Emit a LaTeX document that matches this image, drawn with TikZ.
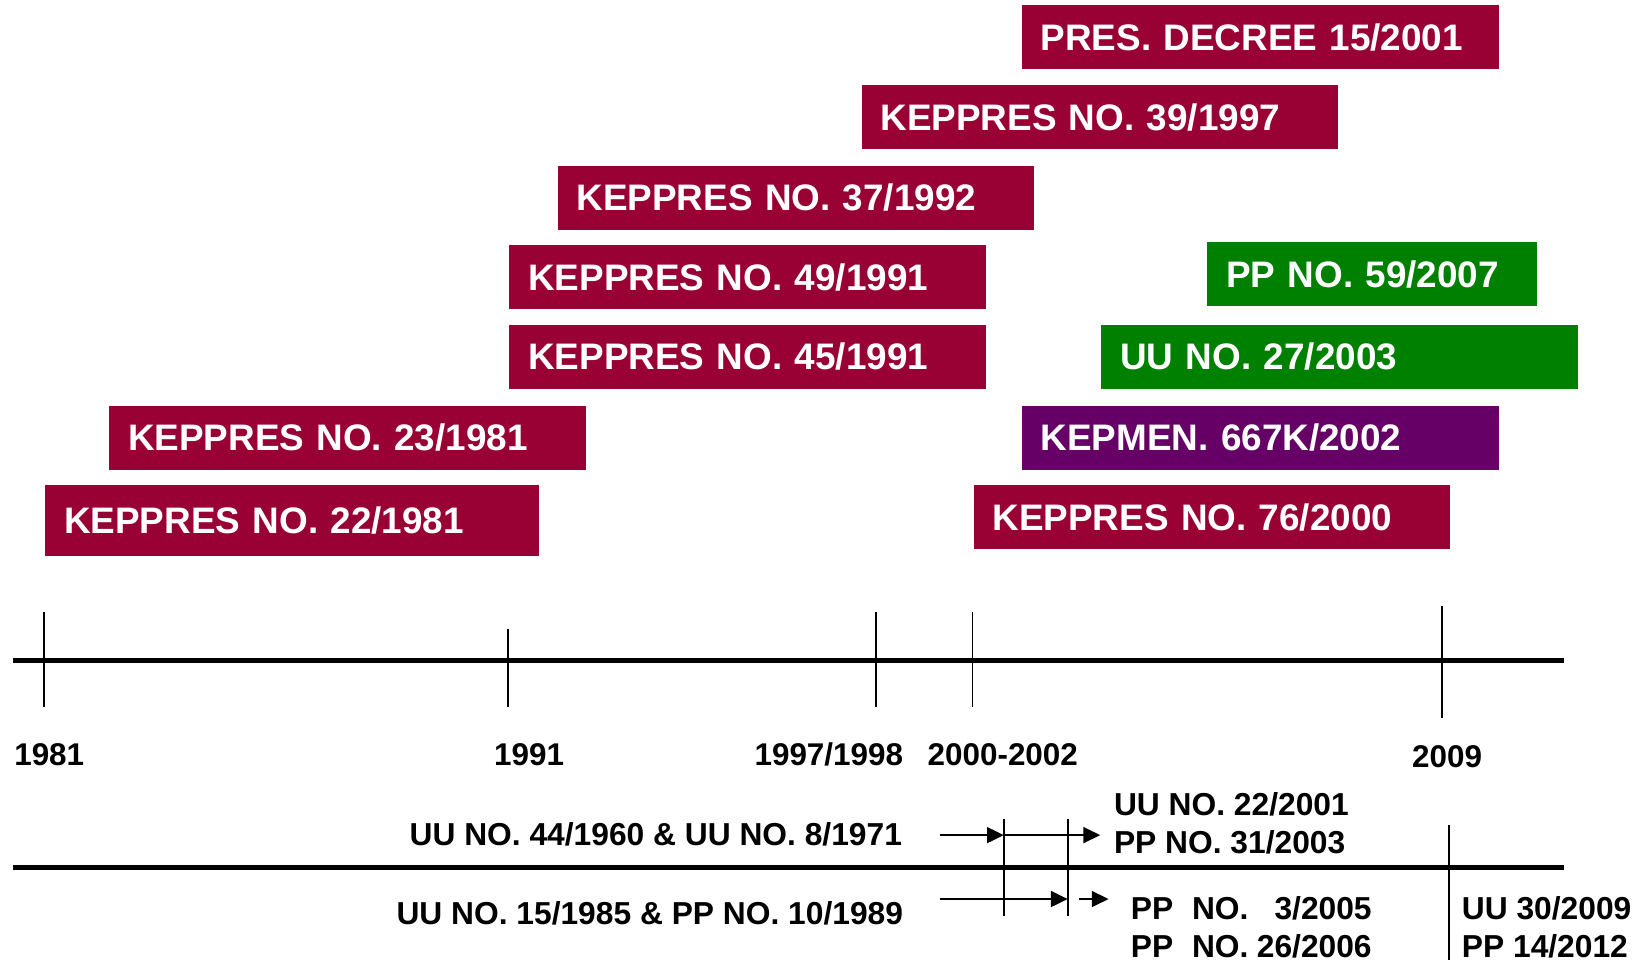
\documentclass[tikz,border=0pt]{standalone}
\usepackage{fontspec}
\setmainfont{Liberation Sans}
\usetikzlibrary{arrows.meta}
\definecolor{crim}{RGB}{153,0,51}
\definecolor{grn}{RGB}{0,128,0}
\definecolor{prp}{RGB}{102,0,102}
\begin{document}
\begin{tikzpicture}[x=1pt,y=-1pt,
  lawbox/.style={anchor=north west, fill=#1, text=white, inner xsep=18pt, inner ysep=0pt,
    text width=419pt, minimum height=61pt, align=left,
    font=\fontsize{35.2}{40}\selectfont\bfseries},
  yearlbl/.style={font=\fontsize{30}{36}\selectfont\bfseries, inner sep=0pt},
  lawtxt/.style={font=\fontsize{30.3}{36.5}\selectfont\bfseries, inner sep=0pt, align=left},
  axis/.style={line width=4.5pt},
  tick/.style={line width=1.6pt},
  arr/.style={line width=2.2pt, -{Triangle[length=16pt,width=15pt]}}]
\useasboundingbox (0,0) rectangle (1568,918);
% boxes
\node[lawbox=crim] (b1) at (975,5) {PRES. DECREE 15/2001};
\node[lawbox=crim] (b2) at (822,81) {KEPPRES NO. 39/1997};
\node[lawbox=crim] (b3) at (532,158) {KEPPRES NO. 37/1992};
\node[lawbox=crim] (b4) at (486,234) {KEPPRES NO. 49/1991};
\node[lawbox=crim] (b5) at (486,310) {KEPPRES NO. 45/1991};
\node[lawbox=crim] (b6) at (104,387) {KEPPRES NO. 23/1981};
\node[lawbox=crim, text width=435pt, minimum height=67pt] (b7) at (43,463) {KEPPRES NO. 22/1981};
\node[lawbox=grn, text width=279pt] (b8) at (1152,231) {PP NO. 59/2007};
\node[lawbox=grn] (b9) at (1051,310) {UU NO. 27/2003};
\node[lawbox=prp] (b10) at (975,387) {KEPMEN. 667K/2002};
\node[lawbox=crim] (b11) at (929,463) {KEPPRES NO. 76/2000};
% timeline
\draw[axis] (12,630) -- (1493,630);
\draw[tick] (42,584) -- (42,675);
\draw[tick] (485,600) -- (485,675);
\draw[tick] (836,584) -- (836,675);
\draw[tick] (928,584) -- (928,675);
\draw[tick] (1376,578) -- (1376,685);
\node[yearlbl] (y1) at (47,720) {1981};
\node[yearlbl] (y2) at (505,720) {1991};
\node[yearlbl] (y3) at (791,720) {1997/1998};
\node[yearlbl] (y4) at (957,720) {2000-2002};
\node[yearlbl] (y5) at (1381,722) {2009};
% lower timeline
\draw[axis] (12,828) -- (1493,828);
\coordinate (v1t) at (958,782); \coordinate (v1b) at (958,874);
\coordinate (v2t) at (1019,782); \coordinate (v2b) at (1019,874);
\coordinate (v3t) at (1383,787); \coordinate (v3b) at (1383,916);
\draw[tick] (v1t) -- (v1b);
\draw[tick] (v2t) -- (v2b);
\draw[tick] (v3t) -- (v3b);
\node[lawtxt, anchor=east] (l1) at (861,796) {UU NO. 44/1960 \& UU NO. 8/1971};
\node[lawtxt, anchor=east] (l2) at (862,872) {UU NO. 15/1985 \& PP NO. 10/1989};
\coordinate (a1) at (897,797);
\coordinate (a1m) at (958,797);
\coordinate (a1e) at (1050,797);
\coordinate (a2) at (897,858);
\coordinate (a2e) at (1019,858);
\coordinate (a3) at (1030,858);
\coordinate (a3e) at (1058,858);
\draw[arr] (a1) -- (a1m);
\draw[arr] (a1m) -- (a1e);
\draw[arr] (a2) -- (a2e);
\draw[arr] (a3) -- (a3e);
\node[lawtxt, anchor=west] (r1) at (1063,785.5) {UU NO. 22/2001\\PP NO. 31/2003};
\node[lawtxt, anchor=west] (r2) at (1079,888) {\begin{tabular}{@{}l@{\hspace{18pt}}l@{\hspace{8pt}}r@{}}PP & NO. & 3/2005\\ PP & NO. & 26/2006\end{tabular}};
\node[lawtxt, anchor=west] (r3) at (1395,885) {UU 30/2009\\PP 14/2012};
\end{tikzpicture}
\end{document}
